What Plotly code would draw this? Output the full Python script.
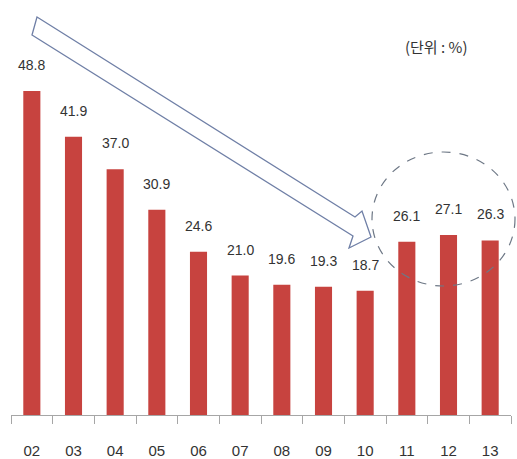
import plotly.graph_objects as go

years = ["02", "03", "04", "05", "06", "07", "08", "09", "10", "11", "12", "13"]
values = [48.8, 41.9, 37.0, 30.9, 24.6, 21.0, 19.6, 19.3, 18.7, 26.1, 27.1, 26.3]
labels = [f"{v:.1f}" for v in values]
unit_text = "(단위 : %)"

W, H = 517, 459
L, R, T, B = 11, 6, 10, 44
PW, PH = W - L - R, H - T - B
YMAX = 61.0

FONT = "Liberation Sans, Arial, sans-serif"


def px(x):
    return (x - L) / PW


def py(y):
    return (H - B - y) / PH


fig = go.Figure()
fig.add_trace(go.Bar(
    x=years, y=values, width=0.41,
    marker=dict(color="#C7433F", line=dict(width=0)),
    hoverinfo="x+y",
))

for i, (v, lab) in enumerate(zip(values, labels)):
    fig.add_annotation(x=i, y=v, text=lab, showarrow=False, xref="x", yref="y",
                       yanchor="middle", yshift=26,
                       font=dict(family=FONT, size=14, color="#333333"))

fig.add_annotation(x=px(436), y=py(47), xref="paper", yref="paper", text=unit_text,
                   showarrow=False, xanchor="center", yanchor="middle",
                   font=dict(family="Noto Sans CJK KR, sans-serif", size=15, color="#333333"))

# block arrow (decorative)
pts = [(37, 17), (355, 217), (362, 211), (371, 237), (349, 248), (353, 236), (32, 35)]
path = "M " + " L ".join(f"{px(a):.4f},{py(b):.4f}" for a, b in pts) + " Z"
fig.add_shape(type="path", path=path, xref="paper", yref="paper",
              line=dict(color="#6F7FA6", width=1.3), fillcolor="white", layer="above")

# dashed ellipse
fig.add_shape(type="circle", xref="paper", yref="paper",
              x0=px(372), x1=px(515), y0=py(286), y1=py(152),
              line=dict(color="#6E7886", width=1.2, dash="dash"), layer="above")

fig.update_layout(
    width=W, height=H,
    margin=dict(l=L, r=R, t=T, b=B, autoexpand=False),
    paper_bgcolor="white", plot_bgcolor="white",
    showlegend=False,
    xaxis=dict(type="category", range=[-0.5, len(years) - 0.5], automargin=False,
               showline=True, linecolor="#A6A6A6", linewidth=1,
               ticks="outside", tickson="boundaries", ticklen=8, tickcolor="#A6A6A6",
               tickfont=dict(family=FONT, size=15, color="#333333"),
               ticklabelstandoff=22, showgrid=False, zeroline=False),
    yaxis=dict(range=[0, YMAX], visible=False, showgrid=False, zeroline=False,
               automargin=False),
)

fig.write_html("out.html", config={"displayModeBar": False},
               post_script="document.body.style.margin='0';")
